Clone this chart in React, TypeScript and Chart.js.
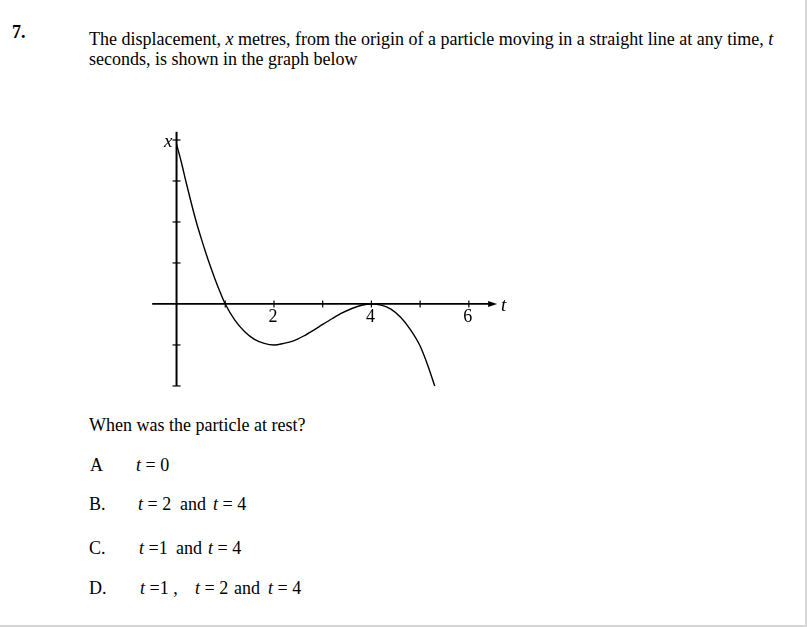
import React, { useEffect, useRef } from "react";
import { Chart, registerables } from "chart.js";

Chart.register(...registerables);

// Displacement x (metres) at times t (seconds)
const timeValues = [0, 0.1, 0.2, 0.3, 0.4, 0.5, 0.6, 0.7, 0.8, 0.9, 1.0, 1.2, 1.4, 1.6, 1.8, 2.0, 2.2, 2.4, 2.6, 2.8, 3.0, 3.2, 3.4, 3.6, 3.8, 4.0, 4.2, 4.4, 4.6, 4.8, 5.0, 5.15, 5.3];
const displacementValues = [15.6, 13.8, 11.8, 9.9, 8.1, 6.5, 5.0, 3.6, 2.3, 1.1, 0, -1.6, -2.7, -3.45, -3.85, -4.0, -3.85, -3.6, -3.15, -2.6, -2.0, -1.42, -0.88, -0.44, -0.12, 0, -0.12, -0.5, -1.3, -2.5, -4.1, -5.9, -8.0];

// Axis ticks
const xTickValues = [1, 2, 3, 4, 5, 6];
const xTickLabels = ["", "2", "", "4", "", "6"];
const yTickValues = [-8, -4, 4, 8, 12, 16];
const xAxisRange = [-0.5, 6.58];
const yAxisRange = [-8, 16.8];

const serif = '"Liberation Serif", "Times New Roman", serif';

const axesPlugin = {
  id: "mathAxes",
  beforeDatasetsDraw(chart: any) {
    const { ctx, scales } = chart;
    const xs = scales.x;
    const ys = scales.y;
    const y0 = ys.getPixelForValue(0);
    const x0 = xs.getPixelForValue(0);
    ctx.save();
    ctx.strokeStyle = "#000";
    ctx.fillStyle = "#000";
    // x axis
    const xa = xs.getPixelForValue(xAxisRange[0]);
    const xb = xs.getPixelForValue(xAxisRange[1]);
    ctx.lineWidth = 1.8;
    ctx.beginPath();
    ctx.moveTo(xa, y0);
    ctx.lineTo(xb - 6, y0);
    ctx.stroke();
    // arrow head
    ctx.beginPath();
    ctx.moveTo(xb, y0);
    ctx.lineTo(xb - 9, y0 - 3);
    ctx.lineTo(xb - 9, y0 + 3);
    ctx.closePath();
    ctx.fill();
    // x ticks
    ctx.lineWidth = 1.2;
    xTickValues.forEach((v) => {
      const px = xs.getPixelForValue(v);
      ctx.beginPath();
      ctx.moveTo(px, y0 - 3.5);
      ctx.lineTo(px, y0 + 3.5);
      ctx.stroke();
    });
    // y axis
    ctx.lineWidth = 2;
    ctx.beginPath();
    ctx.moveTo(x0, ys.getPixelForValue(yAxisRange[0]));
    ctx.lineTo(x0, ys.getPixelForValue(yAxisRange[1]));
    ctx.stroke();
    ctx.lineWidth = 1.2;
    yTickValues.forEach((v) => {
      const py = ys.getPixelForValue(v);
      ctx.beginPath();
      ctx.moveTo(x0 - 4, py);
      ctx.lineTo(x0 + 4, py);
      ctx.stroke();
    });
    // labels
    ctx.font = "18px " + serif;
    ctx.textAlign = "center";
    ctx.textBaseline = "alphabetic";
    xTickValues.forEach((v, i) => {
      if (!xTickLabels[i]) return;
      ctx.fillText(xTickLabels[i], xs.getPixelForValue(v) - 1, y0 + 18);
    });
    ctx.font = "italic 19px " + serif;
    ctx.textAlign = "left";
    ctx.fillText("t", xb + 4, y0 + 7);
    ctx.textAlign = "right";
    ctx.fillText("x", x0 - 4, ys.getPixelForValue(16) + 7);
    ctx.restore();
  },
};

function Graph() {
  const ref = useRef<HTMLCanvasElement | null>(null);
  useEffect(() => {
    if (!ref.current) return;
    const chart = new Chart(ref.current, {
      type: "line",
      data: {
        datasets: [
          {
            data: timeValues.map((t, i) => ({ x: t, y: displacementValues[i] })),
            borderColor: "#000",
            borderWidth: 1.4,
            pointRadius: 0,
            cubicInterpolationMode: "monotone",
            fill: false,
          },
        ],
      },
      options: {
        animation: false,
        responsive: false,
        maintainAspectRatio: false,
        layout: { padding: 0 },
        plugins: { legend: { display: false }, tooltip: { enabled: false } },
        scales: {
          x: { type: "linear", min: -0.75, max: 7.05, display: false },
          y: { type: "linear", min: -9.37, max: 17.95, display: false },
        },
      },
      plugins: [axesPlugin],
    } as any);
    return () => chart.destroy();
  }, []);
  return (
    <canvas
      ref={ref}
      width={380}
      height={280}
      style={{ position: "absolute", left: 140, top: 120, width: 380, height: 280 }}
    />
  );
}

const txt = (left: number, top: number, size: number, extra: any = {}) => ({
  position: "absolute" as const,
  left,
  top,
  fontSize: size,
  lineHeight: "20px",
  fontFamily: serif,
  whiteSpace: "nowrap" as const,
  color: "#000",
  ...extra,
});

export default function App() {
  return (
    <div
      style={{
        position: "absolute",
        left: 0,
        top: 0,
        width: 807,
        height: 627,
        boxSizing: "border-box",
        borderRight: "2px solid #d6d6d6",
        borderBottom: "2px solid #d6d6d6",
        background: "#fff",
        overflow: "hidden",
      }}
    >
      <div style={txt(12, 22, 18, { fontWeight: "bold" })}>7.</div>
      <div style={txt(89, 29, 18)}>
        The displacement, <i>x</i> metres, from the origin of a particle moving in a straight line at any time, <i>t</i>
        <br />
        seconds, is shown in the graph below
      </div>
      <Graph />
      <div style={txt(89, 414.6, 18)}>When was the particle at rest?</div>

      <div style={txt(90, 454.6, 18)}>A</div>
      <div style={txt(136, 454.6, 18)}>
        <i>t</i> = 0
      </div>

      <div style={txt(89, 494, 18)}>B.</div>
      <div style={txt(138, 494, 18)}>
        <i>t</i> = 2
      </div>
      <div style={txt(180, 494, 18)}>and</div>
      <div style={txt(213, 494, 18)}>
        <i>t</i> = 4
      </div>

      <div style={txt(89, 538, 18)}>C.</div>
      <div style={txt(139, 538, 18)}>
        <i>t</i> =1
      </div>
      <div style={txt(176, 538, 18)}>and</div>
      <div style={txt(208, 538, 18)}>
        <i>t</i> = 4
      </div>

      <div style={txt(89, 578, 18)}>D.</div>
      <div style={txt(140, 578, 18)}>
        <i>t</i> =1 ,
      </div>
      <div style={txt(195, 578, 18)}>
        <i>t</i> = 2
      </div>
      <div style={txt(234, 578, 18)}>and</div>
      <div style={txt(268, 578, 18)}>
        <i>t</i> = 4
      </div>
    </div>
  );
}
